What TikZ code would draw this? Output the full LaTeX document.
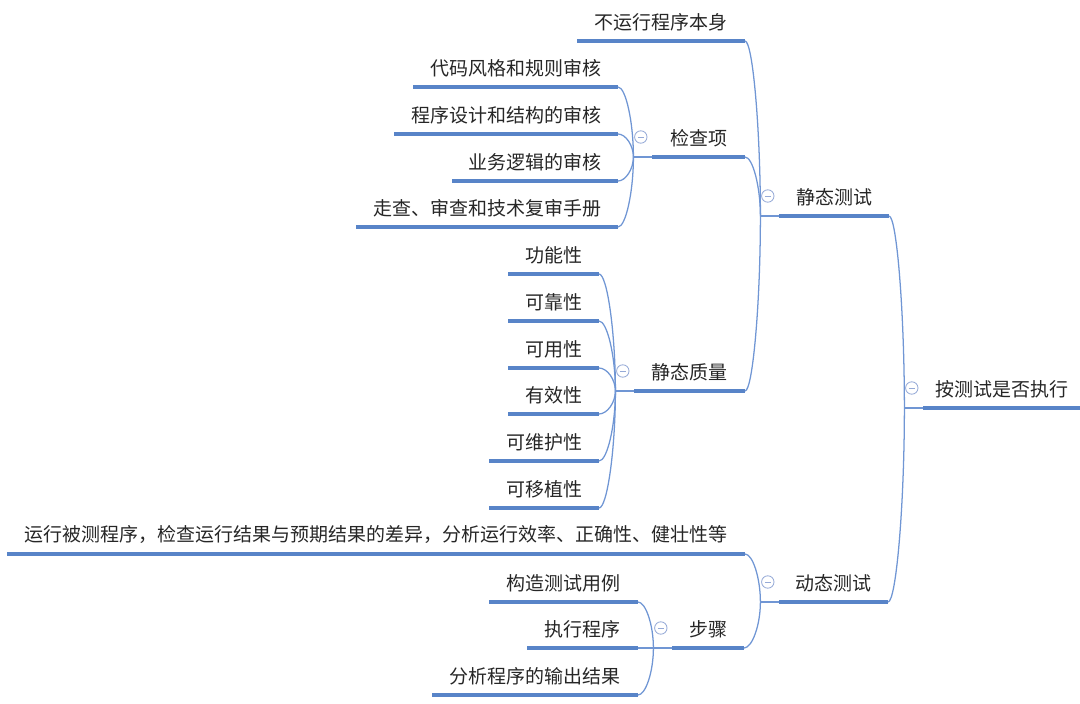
\documentclass[tikz,border=0pt]{standalone}
\usepackage{fontspec}
\setmainfont{Noto Sans CJK SC}
\usepackage{tikz}
\usetikzlibrary{calc}
\definecolor{lineblue}{RGB}{88,132,200}
\definecolor{linkblue}{RGB}{112,150,212}
\definecolor{foldblue}{RGB}{150,170,215}
\tikzset{
  mmtopic/.style={
    anchor=south east, inner sep=0pt, minimum height=0.94cm,
    font=\fontsize{13.5}{16}\selectfont, text=black!85
  },
  mmuline/.style={draw=lineblue, line width=2.8pt},
  mmlink/.style={draw=linkblue, line width=0.9pt},
  mmfold/.style={
    circle, draw=foldblue, line width=0.6pt, minimum size=0.31cm, inner sep=0pt,
    path picture={\draw[draw=foldblue, line width=0.6pt]
      ([xshift=-0.075cm]path picture bounding box.center) --
      ([xshift=0.075cm]path picture bounding box.center);}
  },
}
\begin{document}
\begin{tikzpicture}[x=0.025cm, y=-0.025cm]
  \useasboundingbox (0,0) rectangle (1080,704);
  % root and first level
  \node (ce) [mmtopic, minimum width=3.9cm] at (1080,408) {按测试是否执行};
  \node (jt) [mmtopic, minimum width=2.725cm] at (889,216) {静态测试};
  \node (dt) [mmtopic, minimum width=2.7cm] at (888,602) {动态测试};
  % static test
  \node (bx) [mmtopic, minimum width=4.175cm] at (745,41) {不运行程序本身};
  \node (jcx) [mmtopic, minimum width=2.3cm] at (745,157) {检查项};
  \node (zl) [mmtopic, minimum width=2.75cm] at (745,391) {静态质量};
  \node (dm) [mmtopic, minimum width=5.1cm] at (618,87) {代码风格和规则审核};
  \node (cx) [mmtopic, minimum width=5.575cm] at (618,134) {程序设计和结构的审核};
  \node (yw) [mmtopic, minimum width=4.125cm] at (618,181) {业务逻辑的审核};
  \node (zc) [mmtopic, minimum width=6.525cm] at (618,227) {走查、审查和技术复审手册};
  \node (gn) [mmtopic, minimum width=2.25cm] at (599,274) {功能性};
  \node (kk) [mmtopic, minimum width=2.25cm] at (599,321) {可靠性};
  \node (ky) [mmtopic, minimum width=2.25cm] at (599,368) {可用性};
  \node (yx) [mmtopic, minimum width=2.25cm] at (599,414) {有效性};
  \node (kw) [mmtopic, minimum width=2.725cm] at (599,461) {可维护性};
  \node (kz) [mmtopic, minimum width=2.725cm] at (599,508) {可移植性};
  % dynamic test
  \node (yc) [mmtopic, minimum width=18.425cm] at (745,554) {运行被测程序，检查运行结果与预期结果的差异，分析运行效率、正确性、健壮性等};
  \node (bz) [mmtopic, minimum width=1.775cm] at (744,648) {步骤};
  \node (gz) [mmtopic, minimum width=3.7cm] at (638,602) {构造测试用例};
  \node (zx) [mmtopic, minimum width=2.75cm] at (638,648) {执行程序};
  \node (fx) [mmtopic, minimum width=5.125cm] at (638,695) {分析程序的输出结果};
  % branch points, folds
  \foreach \p in {ce,jt,dt,jcx,zl,bz} {
    \coordinate (b\p) at ([xshift=-0.475cm]\p.south west);
    \draw[mmlink] (b\p) -- (\p.south west);
    \node (f\p) [mmfold] at ([xshift=-0.29cm,yshift=0.5cm]\p.south west) {};
  }
  \foreach \c/\p in {jt/ce, dt/ce, bx/jt, jcx/jt, zl/jt, dm/jcx, cx/jcx, yw/jcx, zc/jcx,
      gn/zl, kk/zl, ky/zl, yx/zl, kw/zl, kz/zl, yc/dt, bz/dt, gz/bz, zx/bz, fx/bz}
    \draw[mmlink] (\c.south east)
      .. controls ($(\c.south east)!0.5!(\c.south east -| b\p)$)
      and ($(b\p)!0.5!(b\p |- \c.south east)$) .. (b\p);
  \foreach \n in {ce,jt,dt,bx,jcx,zl,dm,cx,yw,zc,gn,kk,ky,yx,kw,kz,yc,bz,gz,zx,fx}
    \draw[mmuline] (\n.south west) -- (\n.south east);
\end{tikzpicture}
\end{document}
